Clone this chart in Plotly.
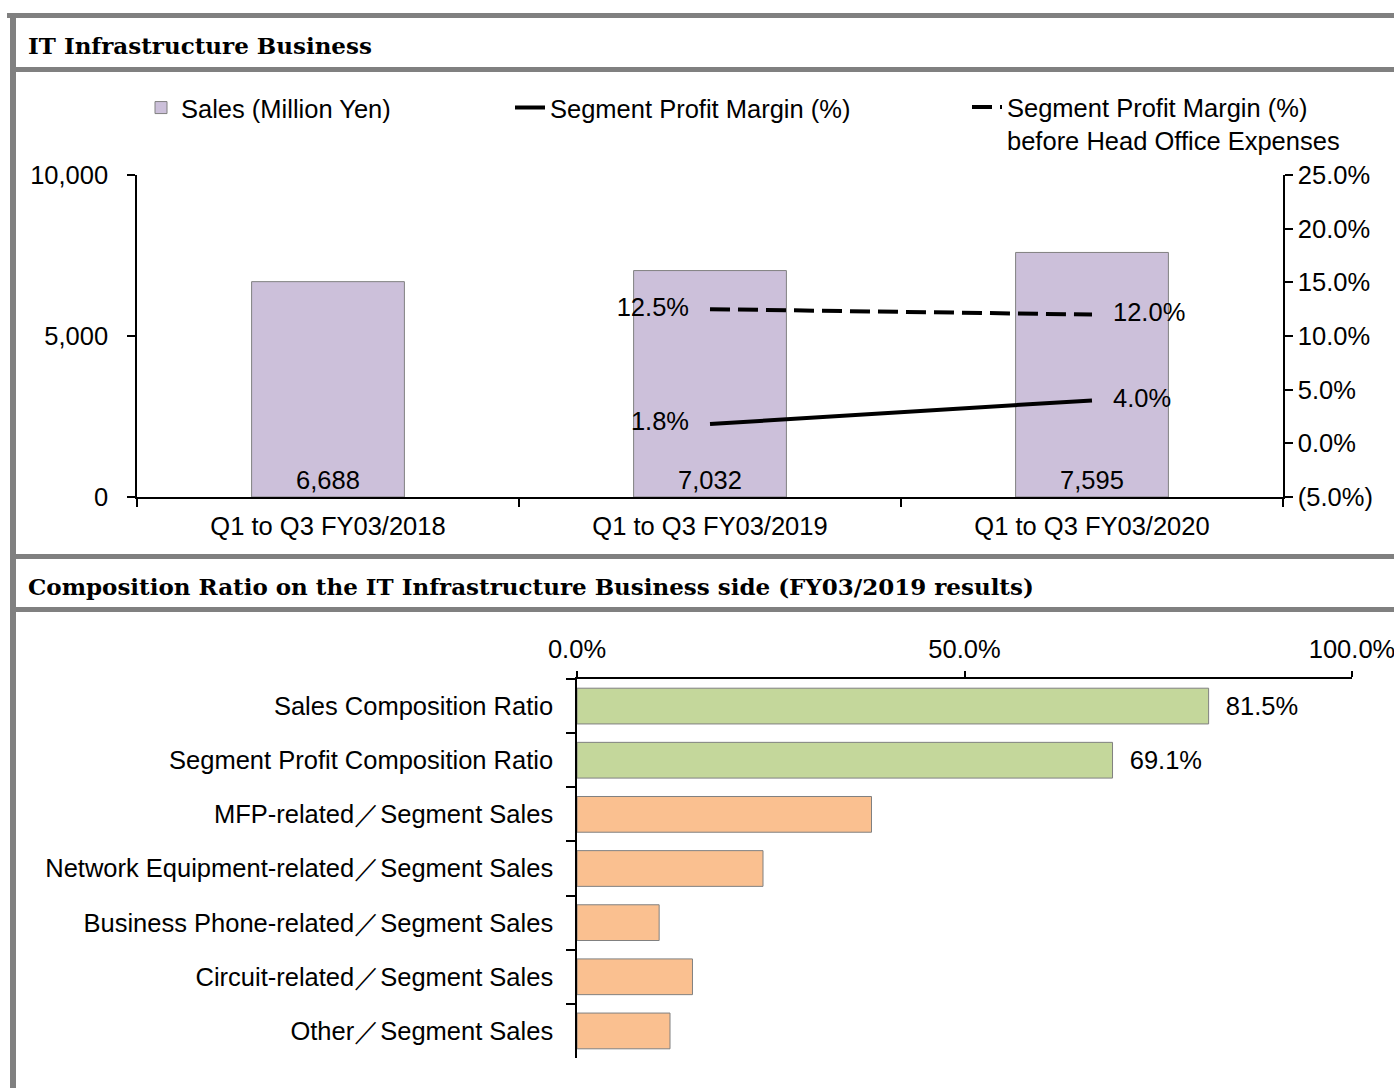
import plotly.graph_objects as go

# ---------------- data ----------------
periods = ["Q1 to Q3 FY03/2018", "Q1 to Q3 FY03/2019", "Q1 to Q3 FY03/2020"]
sales = [6688, 7032, 7595]
profit_margin = [None, 1.8, 4.0]
profit_margin_before_ho = [None, 12.5, 12.0]

left_ticks = [0, 5000, 10000]
right_ticks = [-5, 0, 5, 10, 15, 20, 25]
right_ticktext = ["(5.0%)", "0.0%", "5.0%", "10.0%", "15.0%", "20.0%", "25.0%"]

ratio_cats = ["Sales Composition Ratio", "Segment Profit Composition Ratio"]
ratio_vals = [81.5, 69.1]
share_cats = [
    "MFP-related／Segment Sales",
    "Network Equipment-related／Segment Sales",
    "Business Phone-related／Segment Sales",
    "Circuit-related／Segment Sales",
    "Other／Segment Sales",
]
share_vals = [38.0, 24.0, 10.6, 14.9, 12.0]
comp_ticks = [0, 50, 100]
comp_ticktext = ["0.0%", "50.0%", "100.0%"]

title_top = "IT Infrastructure Business"
title_bottom = "Composition Ratio on the IT Infrastructure Business side (FY03/2019 results)"

# ---------------- style ----------------
W, H = 1394, 1088
SANS = "Liberation Sans, Arial, sans-serif"
SERIF = "DejaVu Serif, serif"
FS = 25.5
GRAY = "#808080"


def px(x):
    return x / W


def py(y):
    return 1 - y / H


fig = go.Figure()

fig.add_trace(go.Bar(
    x=periods, y=sales, name="Sales (Million Yen)",
    marker=dict(color="#CCC0DA", line=dict(color=GRAY, width=1)),
    width=0.4,
    texttemplate="%{y:,}", textposition="inside", insidetextanchor="start",
    textfont=dict(family=SANS, size=FS, color="black"),
    xaxis="x", yaxis="y", legend="legend",
))
fig.add_trace(go.Scatter(
    x=periods, y=profit_margin, name="Segment Profit Margin (%)",
    mode="lines+markers+text", line=dict(color="black", width=4),
    marker=dict(size=32, color="rgba(0,0,0,0)"),
    texttemplate="%{y:.1f}%", textposition=["middle left", "middle left", "middle right"],
    textfont=dict(family=SANS, size=FS, color="black"),
    xaxis="x", yaxis="y2", legend="legend2", cliponaxis=False,
))
fig.add_trace(go.Scatter(
    x=periods, y=profit_margin_before_ho,
    name="Segment Profit Margin (%)<br>before Head Office Expenses",
    mode="lines+markers+text", line=dict(color="black", width=4, dash="20px,8px"),
    marker=dict(size=32, color="rgba(0,0,0,0)"),
    texttemplate="%{y:.1f}%", textposition=["middle left", "middle left", "middle right"],
    textfont=dict(family=SANS, size=FS, color="black"),
    xaxis="x", yaxis="y2", legend="legend3", cliponaxis=False,
))

fig.add_trace(go.Bar(
    y=ratio_cats, x=ratio_vals, orientation="h",
    marker=dict(color="#C4D79B", line=dict(color=GRAY, width=1)),
    width=0.66,
    texttemplate="\u00a0\u00a0%{x:.1f}%", textposition="outside",
    textfont=dict(family=SANS, size=FS, color="black"),
    xaxis="x2", yaxis="y3", showlegend=False, cliponaxis=False,
))
fig.add_trace(go.Bar(
    y=share_cats, x=share_vals, orientation="h",
    marker=dict(color="#FAC090", line=dict(color=GRAY, width=1)),
    width=0.66,
    xaxis="x2", yaxis="y3", showlegend=False,
))

axis_common = dict(
    showgrid=False, zeroline=False, showline=True, linecolor="black", linewidth=1.5,
    ticks="outside", tickcolor="black", tickwidth=1.5, automargin=False,
    ticklabeloverflow="allow",
    tickfont=dict(family=SANS, size=FS, color="black"),
)

shapes = []
for (x0, y0, x1, y1) in [
    (7, 13, W, 18),      # top border
    (10, 13, 16, H),     # left border
    (10, 67, W, 72),     # header 1 underline
    (10, 554, W, 559),   # section divider
    (10, 607, W, 612),   # header 2 underline
]:
    shapes.append(dict(type="rect", xref="paper", yref="paper",
                       x0=px(x0), x1=px(x1), y0=py(y0), y1=py(y1),
                       fillcolor=GRAY, line=dict(width=0), layer="above"))

annotations = [
    dict(text=title_top, xref="paper", yref="paper", x=px(26), y=py(45),
         xanchor="left", yanchor="middle", showarrow=False,
         font=dict(family=SERIF, size=23, color="black", weight="bold")),
    dict(text=title_bottom, xref="paper", yref="paper", x=px(26), y=py(586),
         xanchor="left", yanchor="middle", showarrow=False,
         font=dict(family=SERIF, size=23, color="black", weight="bold")),
]

legend_font = dict(family=SANS, size=FS, color="black")

fig.update_layout(
    width=W, height=H,
    margin=dict(l=0, r=0, t=0, b=0, autoexpand=False),
    paper_bgcolor="white", plot_bgcolor="rgba(0,0,0,0)",
    font=dict(family=SANS, size=FS, color="black"),
    xaxis=dict(axis_common, domain=[px(137), px(1283)], anchor="y",
               type="category", tickson="boundaries", ticklen=8,
               range=[-0.5, 2.5], ticklabelstandoff=6),
    yaxis=dict(axis_common, domain=[py(497), py(175)], anchor="x",
               range=[0, 10000], tickvals=left_ticks, tickformat=",", ticklen=8,
               ticklabelstandoff=14),
    yaxis2=dict(axis_common, overlaying="y", side="right", anchor="x",
                range=[-5, 25], tickvals=right_ticks, ticktext=right_ticktext,
                ticklen=8, ticklabelstandoff=0),
    xaxis2=dict(axis_common, domain=[px(577), px(1352)], anchor="y3", side="top",
                range=[0, 100], tickvals=comp_ticks, ticktext=comp_ticktext,
                ticklen=6, ticklabelstandoff=3),
    yaxis3=dict(axis_common, domain=[py(1058), py(679)], anchor="x2",
                type="category", categoryorder="array",
                categoryarray=ratio_cats + share_cats, autorange="reversed",
                tickson="boundaries", ticklen=9, ticklabelstandoff=17),
    legend=dict(x=px(141), y=py(108), xanchor="left", yanchor="middle",
                orientation="h", font=legend_font, bgcolor="rgba(0,0,0,0)"),
    legend2=dict(x=px(510), y=py(108), xanchor="left", yanchor="middle",
                 orientation="h", font=legend_font, bgcolor="rgba(0,0,0,0)"),
    legend3=dict(x=px(967), y=py(84), xanchor="left", yanchor="top",
                 orientation="h", font=legend_font, bgcolor="rgba(0,0,0,0)",
                 valign="top"),
    shapes=shapes,
    annotations=annotations,
    showlegend=True,
)

fig.write_html("out.html")
